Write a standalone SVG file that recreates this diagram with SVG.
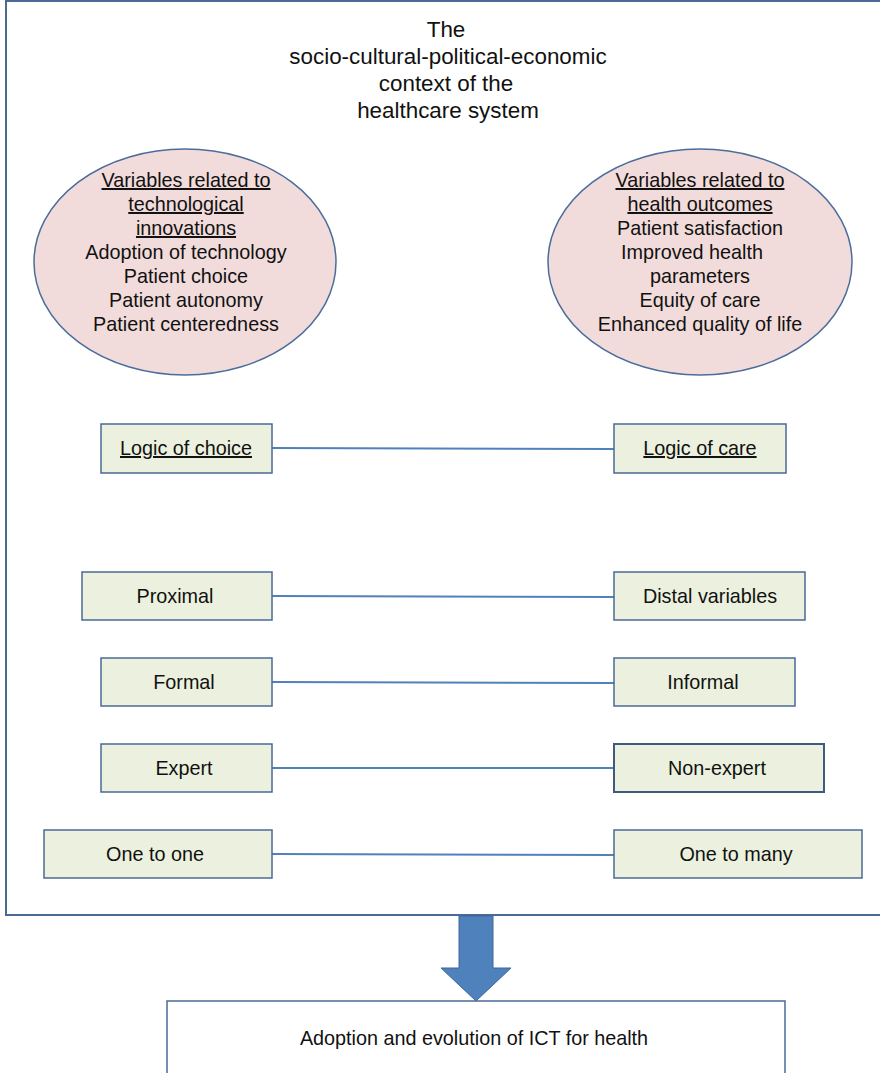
<svg xmlns="http://www.w3.org/2000/svg" width="880" height="1073" viewBox="0 0 880 1073">
<style>
text{font-family:"Liberation Sans",Arial,sans-serif;fill:#111;text-anchor:middle}
.t{font-size:22.4px}
.e{font-size:19.8px}
.b{font-size:19.8px}
.u{text-decoration:underline}
.ell{fill:#f2dcdb;stroke:#4a6d9c;stroke-width:1.5}
.box{fill:#ebf1de;stroke:#4a6a96;stroke-width:1.5}
.conn line{stroke:#4f81bd;stroke-width:2}
</style>
<rect x="6" y="1" width="890" height="914" fill="#fff" stroke="#4a6a96" stroke-width="2"/>
<g id="title">
<text class="t" x="446" y="37">The</text>
<text class="t" x="448" y="64">socio-cultural-political-economic</text>
<text class="t" x="446" y="91">context of the</text>
<text class="t" x="448" y="118">healthcare system</text>
</g>
<g id="ellipse-left">
<ellipse class="ell" cx="185" cy="262" rx="151" ry="113"/>
<text class="e u" x="186" y="187">Variables related to </text>
<text class="e u" x="186" y="211">technological </text>
<text class="e u" x="186" y="235">innovations</text>
<text class="e" x="186" y="259">Adoption of technology</text>
<text class="e" x="186" y="283">Patient choice</text>
<text class="e" x="186" y="307">Patient autonomy</text>
<text class="e" x="186" y="331">Patient centeredness</text>
</g>
<g id="ellipse-right">
<ellipse class="ell" cx="700" cy="262" rx="152" ry="113"/>
<text class="e u" x="700" y="187">Variables related to </text>
<text class="e u" x="700" y="211">health outcomes</text>
<text class="e" x="700" y="235">Patient satisfaction</text>
<text class="e" x="692" y="259">Improved health</text>
<text class="e" x="700" y="283">parameters</text>
<text class="e" x="700" y="307">Equity of care</text>
<text class="e" x="700" y="331">Enhanced quality of life</text>
</g>
<g class="conn" id="connectors">
<line x1="272" y1="448" x2="614" y2="449"/>
<line x1="272" y1="596" x2="614" y2="597"/>
<line x1="272" y1="682" x2="614" y2="683"/>
<line x1="272" y1="768" x2="614" y2="768"/>
<line x1="272" y1="854" x2="614" y2="855"/>
</g>
<g id="logic-choice"><rect class="box" x="101" y="424" width="171" height="49"/><text class="b u" x="186" y="455">Logic of choice</text></g>
<g id="logic-care"><rect class="box" x="614" y="424" width="172" height="49"/><text class="b u" x="700" y="455">Logic of care</text></g>
<g id="proximal"><rect class="box" x="82" y="572" width="190" height="48"/><text class="b" x="175" y="603">Proximal</text></g>
<g id="distal"><rect class="box" x="614" y="572" width="191" height="48"/><text class="b" x="710" y="603">Distal variables</text></g>
<g id="formal"><rect class="box" x="101" y="658" width="171" height="48"/><text class="b" x="184" y="689">Formal</text></g>
<g id="informal"><rect class="box" x="614" y="658" width="181" height="48"/><text class="b" x="703" y="689">Informal</text></g>
<g id="expert"><rect class="box" x="101" y="744" width="171" height="48"/><text class="b" x="184" y="775">Expert</text></g>
<g id="nonexpert"><rect class="box" x="614" y="744" width="210" height="48" style="stroke:#3d5a80;stroke-width:2"/><text class="b" x="717" y="775">Non-expert</text></g>
<g id="one-to-one"><rect class="box" x="44" y="830" width="228" height="48"/><text class="b" x="155" y="861">One to one</text></g>
<g id="one-to-many"><rect class="box" x="614" y="830" width="248" height="48"/><text class="b" x="736" y="861">One to many</text></g>
<g id="arrow">
<polygon points="459,916 493,916 493,968 511,968 476,1001 441,968 459,968" fill="#4f81bd" stroke="#3f6898" stroke-width="1"/>
</g>
<g id="outcome">
<rect x="167" y="1001" width="618" height="90" fill="#fff" stroke="#4a6a96" stroke-width="1.5"/>
<text class="b" x="474" y="1045">Adoption and evolution of ICT for health</text>
</g>
</svg>
